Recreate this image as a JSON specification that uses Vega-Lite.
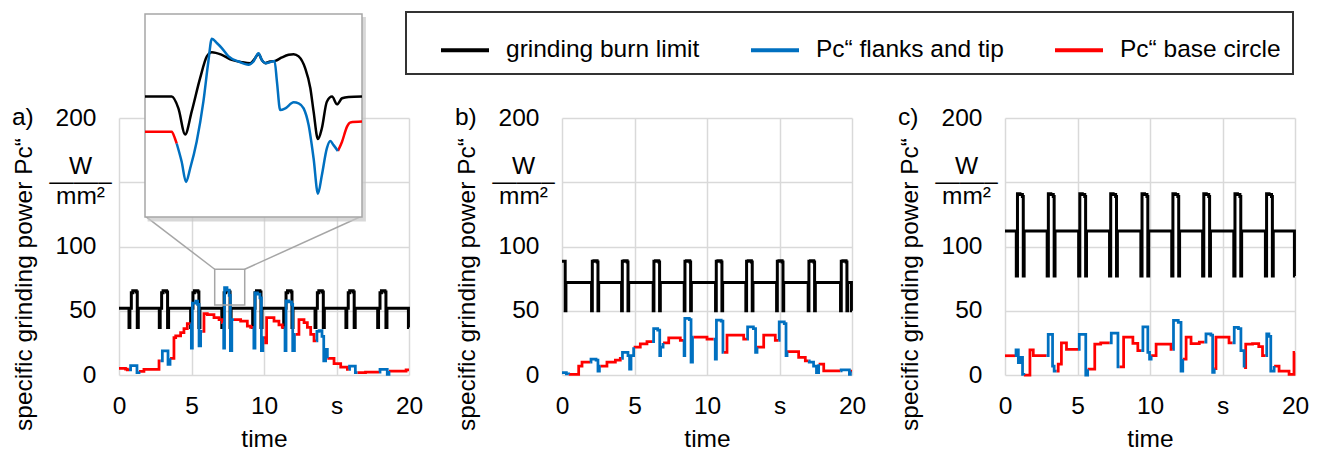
{
"$schema": "https://vega.github.io/schema/vega-lite/v6.json",
"padding": {"left": 10, "top": 11, "right": 5, "bottom": 0},
"background": "white",
"config": {
  "font": "Liberation Sans",
  "view": {"stroke": null},
  "legend": {"strokeWidth": 2},
  "axis": {"labelFont": "Liberation Sans", "titleFont": "Liberation Sans", "labelFontSize": 24.5, "titleFontSize": 24.5, "labelColor": "#000000", "titleColor": "#000000", "titleFontWeight": "normal", "gridColor": "#d9d9d9", "gridWidth": 1.5, "domain": false, "ticks": false, "tickSize": 0, "labelFlush": false, "labelOverlap": false}
},
"bounds": "flush",
"spacing": 153,
"resolve": {"scale": {"color": "shared"}},
"datasets": {
"d": [
{"p":"a","s":"k","g":0,"t":0,"v":52},{"p":"a","s":"k","g":0,"t":0.69,"v":37},{"p":"a","s":"k","g":0,"t":0.75,"v":52},{"p":"a","s":"k","g":0,"t":0.85,"v":64},{"p":"a","s":"k","g":0,"t":0.95,"v":65.5},{"p":"a","s":"k","g":0,"t":1.19,"v":64.5},{"p":"a","s":"k","g":0,"t":1.26,"v":37},{"p":"a","s":"k","g":0,"t":1.33,"v":52},
{"p":"a","s":"k","g":0,"t":2.78,"v":37},{"p":"a","s":"k","g":0,"t":2.84,"v":52},{"p":"a","s":"k","g":0,"t":2.94,"v":64},{"p":"a","s":"k","g":0,"t":3.04,"v":65.5},{"p":"a","s":"k","g":0,"t":3.28,"v":64.5},{"p":"a","s":"k","g":0,"t":3.35,"v":37},{"p":"a","s":"k","g":0,"t":3.42,"v":52},
{"p":"a","s":"k","g":0,"t":4.94,"v":37},{"p":"a","s":"k","g":0,"t":5.0,"v":52},{"p":"a","s":"k","g":0,"t":5.1,"v":64},{"p":"a","s":"k","g":0,"t":5.2,"v":65.5},{"p":"a","s":"k","g":0,"t":5.44,"v":64.5},{"p":"a","s":"k","g":0,"t":5.51,"v":37},{"p":"a","s":"k","g":0,"t":5.58,"v":52},
{"p":"a","s":"k","g":0,"t":7.09,"v":37},{"p":"a","s":"k","g":0,"t":7.15,"v":52},{"p":"a","s":"k","g":0,"t":7.25,"v":64},{"p":"a","s":"k","g":0,"t":7.35,"v":65.5},{"p":"a","s":"k","g":0,"t":7.59,"v":64.5},{"p":"a","s":"k","g":0,"t":7.66,"v":37},{"p":"a","s":"k","g":0,"t":7.73,"v":52},
{"p":"a","s":"k","g":0,"t":9.22,"v":37},{"p":"a","s":"k","g":0,"t":9.28,"v":52},{"p":"a","s":"k","g":0,"t":9.38,"v":64},{"p":"a","s":"k","g":0,"t":9.48,"v":65.5},{"p":"a","s":"k","g":0,"t":9.72,"v":64.5},{"p":"a","s":"k","g":0,"t":9.79,"v":37},{"p":"a","s":"k","g":0,"t":9.86,"v":52},
{"p":"a","s":"k","g":0,"t":11.36,"v":37},{"p":"a","s":"k","g":0,"t":11.42,"v":52},{"p":"a","s":"k","g":0,"t":11.52,"v":64},{"p":"a","s":"k","g":0,"t":11.62,"v":65.5},{"p":"a","s":"k","g":0,"t":11.86,"v":64.5},{"p":"a","s":"k","g":0,"t":11.93,"v":37},{"p":"a","s":"k","g":0,"t":12.0,"v":52},
{"p":"a","s":"k","g":0,"t":13.52,"v":37},{"p":"a","s":"k","g":0,"t":13.58,"v":52},{"p":"a","s":"k","g":0,"t":13.68,"v":64},{"p":"a","s":"k","g":0,"t":13.78,"v":65.5},{"p":"a","s":"k","g":0,"t":14.02,"v":64.5},{"p":"a","s":"k","g":0,"t":14.09,"v":37},{"p":"a","s":"k","g":0,"t":14.16,"v":52},
{"p":"a","s":"k","g":0,"t":15.65,"v":37},{"p":"a","s":"k","g":0,"t":15.71,"v":52},{"p":"a","s":"k","g":0,"t":15.81,"v":64},{"p":"a","s":"k","g":0,"t":15.91,"v":65.5},{"p":"a","s":"k","g":0,"t":16.15,"v":64.5},{"p":"a","s":"k","g":0,"t":16.22,"v":37},{"p":"a","s":"k","g":0,"t":16.29,"v":52},
{"p":"a","s":"k","g":0,"t":17.84,"v":37},{"p":"a","s":"k","g":0,"t":17.9,"v":52},{"p":"a","s":"k","g":0,"t":18.0,"v":64},{"p":"a","s":"k","g":0,"t":18.1,"v":65.5},{"p":"a","s":"k","g":0,"t":18.34,"v":64.5},{"p":"a","s":"k","g":0,"t":18.41,"v":37},{"p":"a","s":"k","g":0,"t":18.48,"v":52},
{"p":"a","s":"k","g":0,"t":19.96,"v":37},{"p":"a","s":"k","g":0,"t":20,"v":37},

{"p":"a","s":"r","g":1,"t":0,"v":5.2},{"p":"a","s":"r","g":1,"t":0.45,"v":4.5},{"p":"a","s":"r","g":1,"t":0.57,"v":3.9},{"p":"a","s":"r","g":1,"t":0.69,"v":3.9},
{"p":"a","s":"b","g":1,"t":0.69,"v":3.9},{"p":"a","s":"b","g":1,"t":0.8,"v":7.2},{"p":"a","s":"b","g":1,"t":1.24,"v":1.8},{"p":"a","s":"b","g":1,"t":1.38,"v":2.8},
{"p":"a","s":"r","g":2,"t":1.38,"v":2.8},{"p":"a","s":"r","g":2,"t":1.72,"v":4.4},{"p":"a","s":"r","g":2,"t":2.76,"v":10.9},{"p":"a","s":"r","g":2,"t":2.87,"v":10.9},
{"p":"a","s":"b","g":2,"t":2.87,"v":10.9},{"p":"a","s":"b","g":2,"t":2.99,"v":18.7},{"p":"a","s":"b","g":2,"t":3.38,"v":8.3},{"p":"a","s":"b","g":2,"t":3.52,"v":13},
{"p":"a","s":"r","g":3,"t":3.52,"v":13},{"p":"a","s":"r","g":3,"t":3.79,"v":29},{"p":"a","s":"r","g":3,"t":3.91,"v":30.5},{"p":"a","s":"r","g":3,"t":4.25,"v":33},{"p":"a","s":"r","g":3,"t":4.48,"v":36},{"p":"a","s":"r","g":3,"t":4.71,"v":40},{"p":"a","s":"r","g":3,"t":4.94,"v":40},
{"p":"a","s":"b","g":3,"t":4.94,"v":40},{"p":"a","s":"b","g":3,"t":4.99,"v":21},{"p":"a","s":"b","g":3,"t":5.06,"v":56},{"p":"a","s":"b","g":3,"t":5.3,"v":57.5},{"p":"a","s":"b","g":3,"t":5.42,"v":55},{"p":"a","s":"b","g":3,"t":5.52,"v":22.6},{"p":"a","s":"b","g":3,"t":5.63,"v":34},{"p":"a","s":"b","g":3,"t":5.75,"v":34},
{"p":"a","s":"r","g":4,"t":5.75,"v":34},{"p":"a","s":"r","g":4,"t":5.86,"v":47.7},{"p":"a","s":"r","g":4,"t":6.09,"v":47},{"p":"a","s":"r","g":4,"t":6.55,"v":44.6},{"p":"a","s":"r","g":4,"t":6.9,"v":43},{"p":"a","s":"r","g":4,"t":7.13,"v":40.7},{"p":"a","s":"r","g":4,"t":7.18,"v":40.7},
{"p":"a","s":"b","g":4,"t":7.18,"v":40.7},{"p":"a","s":"b","g":4,"t":7.22,"v":21},{"p":"a","s":"b","g":4,"t":7.28,"v":68},{"p":"a","s":"b","g":4,"t":7.45,"v":66},{"p":"a","s":"b","g":4,"t":7.6,"v":62},{"p":"a","s":"b","g":4,"t":7.68,"v":19},{"p":"a","s":"b","g":4,"t":7.78,"v":43},{"p":"a","s":"b","g":4,"t":7.93,"v":43},
{"p":"a","s":"r","g":5,"t":7.93,"v":43},{"p":"a","s":"r","g":5,"t":8.39,"v":42},{"p":"a","s":"r","g":5,"t":8.85,"v":38},{"p":"a","s":"r","g":5,"t":9.08,"v":37},{"p":"a","s":"r","g":5,"t":9.25,"v":37},
{"p":"a","s":"b","g":5,"t":9.25,"v":37},{"p":"a","s":"b","g":5,"t":9.3,"v":21},{"p":"a","s":"b","g":5,"t":9.38,"v":64},{"p":"a","s":"b","g":5,"t":9.55,"v":63},{"p":"a","s":"b","g":5,"t":9.72,"v":60},{"p":"a","s":"b","g":5,"t":9.82,"v":19},{"p":"a","s":"b","g":5,"t":9.92,"v":29},{"p":"a","s":"b","g":5,"t":10.0,"v":29},
{"p":"a","s":"r","g":6,"t":10.0,"v":29},{"p":"a","s":"r","g":6,"t":10.11,"v":25},{"p":"a","s":"r","g":6,"t":10.18,"v":44.6},{"p":"a","s":"r","g":6,"t":10.69,"v":42},{"p":"a","s":"r","g":6,"t":11.03,"v":39},{"p":"a","s":"r","g":6,"t":11.26,"v":37},{"p":"a","s":"r","g":6,"t":11.4,"v":37},
{"p":"a","s":"b","g":6,"t":11.4,"v":37},{"p":"a","s":"b","g":6,"t":11.45,"v":19},{"p":"a","s":"b","g":6,"t":11.52,"v":57.6},{"p":"a","s":"b","g":6,"t":11.7,"v":57},{"p":"a","s":"b","g":6,"t":11.9,"v":55},{"p":"a","s":"b","g":6,"t":11.98,"v":19},{"p":"a","s":"b","g":6,"t":12.1,"v":31.6},{"p":"a","s":"b","g":6,"t":12.18,"v":31.6},
{"p":"a","s":"r","g":7,"t":12.18,"v":31.6},{"p":"a","s":"r","g":7,"t":12.41,"v":43},{"p":"a","s":"r","g":7,"t":12.76,"v":40.7},{"p":"a","s":"r","g":7,"t":12.99,"v":37},{"p":"a","s":"r","g":7,"t":13.22,"v":31.6},{"p":"a","s":"r","g":7,"t":13.45,"v":26.5},{"p":"a","s":"r","g":7,"t":13.6,"v":26.5},
{"p":"a","s":"b","g":7,"t":13.6,"v":26.5},{"p":"a","s":"b","g":7,"t":13.65,"v":34},{"p":"a","s":"b","g":7,"t":13.8,"v":34.5},{"p":"a","s":"b","g":7,"t":14.0,"v":30},{"p":"a","s":"b","g":7,"t":14.12,"v":11},{"p":"a","s":"b","g":7,"t":14.25,"v":20},{"p":"a","s":"b","g":7,"t":14.37,"v":13},
{"p":"a","s":"r","g":8,"t":14.37,"v":13},{"p":"a","s":"r","g":8,"t":14.83,"v":8.8},{"p":"a","s":"r","g":8,"t":15.29,"v":6.2},{"p":"a","s":"r","g":8,"t":15.75,"v":4.4},{"p":"a","s":"r","g":8,"t":15.85,"v":4.4},
{"p":"a","s":"b","g":8,"t":15.85,"v":4.4},{"p":"a","s":"b","g":8,"t":15.9,"v":7},{"p":"a","s":"b","g":8,"t":16.2,"v":7},{"p":"a","s":"b","g":8,"t":16.3,"v":1.8},{"p":"a","s":"b","g":8,"t":16.44,"v":1.8},
{"p":"a","s":"r","g":9,"t":16.44,"v":1.8},{"p":"a","s":"r","g":9,"t":17.0,"v":2.3},{"p":"a","s":"r","g":9,"t":17.93,"v":2.3},
{"p":"a","s":"b","g":9,"t":17.93,"v":2.3},{"p":"a","s":"b","g":9,"t":18.0,"v":4.4},{"p":"a","s":"b","g":9,"t":18.4,"v":4.4},{"p":"a","s":"b","g":9,"t":18.5,"v":0.5},{"p":"a","s":"b","g":9,"t":18.62,"v":3.1},
{"p":"a","s":"r","g":10,"t":18.62,"v":3.1},{"p":"a","s":"r","g":10,"t":19.5,"v":3.1},{"p":"a","s":"r","g":10,"t":19.8,"v":3.9},{"p":"a","s":"r","g":10,"t":20,"v":3.9},

{"p":"b","s":"k","g":0,"t":0,"v":88.5},{"p":"b","s":"k","g":0,"t":0.22,"v":50},{"p":"b","s":"k","g":0,"t":0.27,"v":72},
{"p":"b","s":"k","g":0,"t":2.04,"v":50},{"p":"b","s":"k","g":0,"t":2.09,"v":88.5},{"p":"b","s":"k","g":0,"t":2.2,"v":89},{"p":"b","s":"k","g":0,"t":2.42,"v":88},{"p":"b","s":"k","g":0,"t":2.48,"v":50},{"p":"b","s":"k","g":0,"t":2.53,"v":72},
{"p":"b","s":"k","g":0,"t":4.11,"v":50},{"p":"b","s":"k","g":0,"t":4.16,"v":88.5},{"p":"b","s":"k","g":0,"t":4.27,"v":89},{"p":"b","s":"k","g":0,"t":4.49,"v":88},{"p":"b","s":"k","g":0,"t":4.55,"v":50},{"p":"b","s":"k","g":0,"t":4.6,"v":72},
{"p":"b","s":"k","g":0,"t":6.29,"v":50},{"p":"b","s":"k","g":0,"t":6.34,"v":88.5},{"p":"b","s":"k","g":0,"t":6.45,"v":89},{"p":"b","s":"k","g":0,"t":6.67,"v":88},{"p":"b","s":"k","g":0,"t":6.73,"v":50},{"p":"b","s":"k","g":0,"t":6.78,"v":72},
{"p":"b","s":"k","g":0,"t":8.43,"v":50},{"p":"b","s":"k","g":0,"t":8.48,"v":88.5},{"p":"b","s":"k","g":0,"t":8.59,"v":89},{"p":"b","s":"k","g":0,"t":8.81,"v":88},{"p":"b","s":"k","g":0,"t":8.87,"v":50},{"p":"b","s":"k","g":0,"t":8.92,"v":72},
{"p":"b","s":"k","g":0,"t":10.59,"v":50},{"p":"b","s":"k","g":0,"t":10.64,"v":88.5},{"p":"b","s":"k","g":0,"t":10.75,"v":89},{"p":"b","s":"k","g":0,"t":10.97,"v":88},{"p":"b","s":"k","g":0,"t":11.03,"v":50},{"p":"b","s":"k","g":0,"t":11.08,"v":72},
{"p":"b","s":"k","g":0,"t":12.68,"v":50},{"p":"b","s":"k","g":0,"t":12.73,"v":88.5},{"p":"b","s":"k","g":0,"t":12.84,"v":89},{"p":"b","s":"k","g":0,"t":13.06,"v":88},{"p":"b","s":"k","g":0,"t":13.12,"v":50},{"p":"b","s":"k","g":0,"t":13.17,"v":72},
{"p":"b","s":"k","g":0,"t":14.8,"v":50},{"p":"b","s":"k","g":0,"t":14.85,"v":88.5},{"p":"b","s":"k","g":0,"t":14.96,"v":89},{"p":"b","s":"k","g":0,"t":15.18,"v":88},{"p":"b","s":"k","g":0,"t":15.24,"v":50},{"p":"b","s":"k","g":0,"t":15.29,"v":72},
{"p":"b","s":"k","g":0,"t":16.98,"v":50},{"p":"b","s":"k","g":0,"t":17.03,"v":88.5},{"p":"b","s":"k","g":0,"t":17.14,"v":89},{"p":"b","s":"k","g":0,"t":17.36,"v":88},{"p":"b","s":"k","g":0,"t":17.42,"v":50},{"p":"b","s":"k","g":0,"t":17.47,"v":72},
{"p":"b","s":"k","g":0,"t":19.21,"v":50},{"p":"b","s":"k","g":0,"t":19.26,"v":88.5},{"p":"b","s":"k","g":0,"t":19.37,"v":89},{"p":"b","s":"k","g":0,"t":19.59,"v":88},{"p":"b","s":"k","g":0,"t":19.65,"v":50},{"p":"b","s":"k","g":0,"t":19.7,"v":72},
{"p":"b","s":"k","g":0,"t":19.96,"v":50},{"p":"b","s":"k","g":0,"t":20,"v":50},

{"p":"b","s":"b","g":1,"t":0,"v":1.8},{"p":"b","s":"b","g":1,"t":0.3,"v":0.8},{"p":"b","s":"b","g":1,"t":0.46,"v":0.5},
{"p":"b","s":"r","g":1,"t":0.46,"v":0.5},{"p":"b","s":"r","g":1,"t":1.15,"v":7},{"p":"b","s":"r","g":1,"t":1.38,"v":10},{"p":"b","s":"r","g":1,"t":1.95,"v":10},
{"p":"b","s":"b","g":2,"t":1.95,"v":10},{"p":"b","s":"b","g":2,"t":2.0,"v":12.4},{"p":"b","s":"b","g":2,"t":2.35,"v":11.5},{"p":"b","s":"b","g":2,"t":2.48,"v":3},{"p":"b","s":"b","g":2,"t":2.58,"v":7},{"p":"b","s":"b","g":2,"t":2.64,"v":7},
{"p":"b","s":"r","g":2,"t":2.64,"v":7},{"p":"b","s":"r","g":2,"t":3.1,"v":10},{"p":"b","s":"r","g":2,"t":3.68,"v":11.6},{"p":"b","s":"r","g":2,"t":4.02,"v":13},{"p":"b","s":"r","g":2,"t":4.1,"v":13},
{"p":"b","s":"b","g":3,"t":4.1,"v":13},{"p":"b","s":"b","g":3,"t":4.17,"v":17.7},{"p":"b","s":"b","g":3,"t":4.55,"v":15},{"p":"b","s":"b","g":3,"t":4.66,"v":4.5},{"p":"b","s":"b","g":3,"t":4.76,"v":15},{"p":"b","s":"b","g":3,"t":4.94,"v":21.6},
{"p":"b","s":"r","g":3,"t":4.94,"v":21.6},{"p":"b","s":"r","g":3,"t":5.4,"v":24.3},{"p":"b","s":"r","g":3,"t":5.86,"v":26},{"p":"b","s":"r","g":3,"t":6.21,"v":26},
{"p":"b","s":"b","g":4,"t":6.21,"v":26},{"p":"b","s":"b","g":4,"t":6.32,"v":36},{"p":"b","s":"b","g":4,"t":6.6,"v":35},{"p":"b","s":"b","g":4,"t":6.74,"v":15},{"p":"b","s":"b","g":4,"t":6.8,"v":21.6},{"p":"b","s":"b","g":4,"t":6.97,"v":25},
{"p":"b","s":"r","g":4,"t":6.97,"v":25},{"p":"b","s":"r","g":4,"t":7.36,"v":28.8},{"p":"b","s":"r","g":4,"t":8.16,"v":27},{"p":"b","s":"r","g":4,"t":8.39,"v":27},
{"p":"b","s":"b","g":5,"t":8.39,"v":27},{"p":"b","s":"b","g":5,"t":8.42,"v":15},{"p":"b","s":"b","g":5,"t":8.47,"v":44},{"p":"b","s":"b","g":5,"t":8.78,"v":43},{"p":"b","s":"b","g":5,"t":8.9,"v":10},{"p":"b","s":"b","g":5,"t":9.0,"v":29.5},{"p":"b","s":"b","g":5,"t":9.08,"v":29.5},
{"p":"b","s":"r","g":5,"t":9.08,"v":29.5},{"p":"b","s":"r","g":5,"t":10.0,"v":28},{"p":"b","s":"r","g":5,"t":10.46,"v":28},
{"p":"b","s":"b","g":6,"t":10.46,"v":28},{"p":"b","s":"b","g":6,"t":10.57,"v":12.4},{"p":"b","s":"b","g":6,"t":10.65,"v":42.7},{"p":"b","s":"b","g":6,"t":10.98,"v":42},{"p":"b","s":"b","g":6,"t":11.1,"v":17.7},{"p":"b","s":"b","g":6,"t":11.15,"v":17.7},
{"p":"b","s":"r","g":6,"t":11.15,"v":17.7},{"p":"b","s":"r","g":6,"t":11.38,"v":31},{"p":"b","s":"r","g":6,"t":12.53,"v":28},{"p":"b","s":"r","g":6,"t":12.76,"v":28},
{"p":"b","s":"b","g":7,"t":12.76,"v":28},{"p":"b","s":"b","g":7,"t":12.8,"v":37.5},{"p":"b","s":"b","g":7,"t":13.2,"v":36},{"p":"b","s":"b","g":7,"t":13.35,"v":17.7},{"p":"b","s":"b","g":7,"t":13.45,"v":21.6},
{"p":"b","s":"r","g":7,"t":13.45,"v":21.6},{"p":"b","s":"r","g":7,"t":13.91,"v":31},{"p":"b","s":"r","g":7,"t":14.71,"v":27},{"p":"b","s":"r","g":7,"t":14.94,"v":27},
{"p":"b","s":"b","g":8,"t":14.94,"v":27},{"p":"b","s":"b","g":8,"t":14.98,"v":41.4},{"p":"b","s":"b","g":8,"t":15.33,"v":40},{"p":"b","s":"b","g":8,"t":15.45,"v":15},{"p":"b","s":"b","g":8,"t":15.52,"v":18.2},
{"p":"b","s":"r","g":8,"t":15.52,"v":18.2},{"p":"b","s":"r","g":8,"t":16.32,"v":13.7},{"p":"b","s":"r","g":8,"t":16.78,"v":11},{"p":"b","s":"r","g":8,"t":17.01,"v":11},
{"p":"b","s":"b","g":9,"t":17.01,"v":11},{"p":"b","s":"b","g":9,"t":17.05,"v":10},{"p":"b","s":"b","g":9,"t":17.35,"v":7},{"p":"b","s":"b","g":9,"t":17.55,"v":1.8},{"p":"b","s":"b","g":9,"t":17.7,"v":8.4},
{"p":"b","s":"r","g":9,"t":17.7,"v":8.4},{"p":"b","s":"r","g":9,"t":18.05,"v":3.2},{"p":"b","s":"r","g":9,"t":19.2,"v":3.2},
{"p":"b","s":"b","g":10,"t":19.2,"v":3.2},{"p":"b","s":"b","g":10,"t":19.25,"v":4},{"p":"b","s":"b","g":10,"t":19.75,"v":4},{"p":"b","s":"b","g":10,"t":19.82,"v":0.5},{"p":"b","s":"b","g":10,"t":19.89,"v":3},
{"p":"b","s":"r","g":10,"t":19.89,"v":3},{"p":"b","s":"r","g":10,"t":20,"v":3},

{"p":"c","s":"k","g":0,"t":0,"v":112},
{"p":"c","s":"k","g":0,"t":0.78,"v":77},{"p":"c","s":"k","g":0,"t":0.86,"v":141},{"p":"c","s":"k","g":0,"t":1.03,"v":140.5},{"p":"c","s":"k","g":0,"t":1.2,"v":139},{"p":"c","s":"k","g":0,"t":1.26,"v":77},{"p":"c","s":"k","g":0,"t":1.32,"v":112},
{"p":"c","s":"k","g":0,"t":2.91,"v":77},{"p":"c","s":"k","g":0,"t":2.99,"v":141},{"p":"c","s":"k","g":0,"t":3.16,"v":140.5},{"p":"c","s":"k","g":0,"t":3.33,"v":139},{"p":"c","s":"k","g":0,"t":3.39,"v":77},{"p":"c","s":"k","g":0,"t":3.45,"v":112},
{"p":"c","s":"k","g":0,"t":5.08,"v":77},{"p":"c","s":"k","g":0,"t":5.16,"v":141},{"p":"c","s":"k","g":0,"t":5.33,"v":140.5},{"p":"c","s":"k","g":0,"t":5.5,"v":139},{"p":"c","s":"k","g":0,"t":5.56,"v":77},{"p":"c","s":"k","g":0,"t":5.62,"v":112},
{"p":"c","s":"k","g":0,"t":7.21,"v":77},{"p":"c","s":"k","g":0,"t":7.29,"v":141},{"p":"c","s":"k","g":0,"t":7.46,"v":140.5},{"p":"c","s":"k","g":0,"t":7.63,"v":139},{"p":"c","s":"k","g":0,"t":7.69,"v":77},{"p":"c","s":"k","g":0,"t":7.75,"v":112},
{"p":"c","s":"k","g":0,"t":9.37,"v":77},{"p":"c","s":"k","g":0,"t":9.45,"v":141},{"p":"c","s":"k","g":0,"t":9.62,"v":140.5},{"p":"c","s":"k","g":0,"t":9.79,"v":139},{"p":"c","s":"k","g":0,"t":9.85,"v":77},{"p":"c","s":"k","g":0,"t":9.91,"v":112},
{"p":"c","s":"k","g":0,"t":11.5,"v":77},{"p":"c","s":"k","g":0,"t":11.58,"v":141},{"p":"c","s":"k","g":0,"t":11.75,"v":140.5},{"p":"c","s":"k","g":0,"t":11.92,"v":139},{"p":"c","s":"k","g":0,"t":11.98,"v":77},{"p":"c","s":"k","g":0,"t":12.04,"v":112},
{"p":"c","s":"k","g":0,"t":13.63,"v":77},{"p":"c","s":"k","g":0,"t":13.71,"v":141},{"p":"c","s":"k","g":0,"t":13.88,"v":140.5},{"p":"c","s":"k","g":0,"t":14.05,"v":139},{"p":"c","s":"k","g":0,"t":14.11,"v":77},{"p":"c","s":"k","g":0,"t":14.17,"v":112},
{"p":"c","s":"k","g":0,"t":15.78,"v":77},{"p":"c","s":"k","g":0,"t":15.86,"v":141},{"p":"c","s":"k","g":0,"t":16.03,"v":140.5},{"p":"c","s":"k","g":0,"t":16.2,"v":139},{"p":"c","s":"k","g":0,"t":16.26,"v":77},{"p":"c","s":"k","g":0,"t":16.32,"v":112},
{"p":"c","s":"k","g":0,"t":17.96,"v":77},{"p":"c","s":"k","g":0,"t":18.04,"v":141},{"p":"c","s":"k","g":0,"t":18.21,"v":140.5},{"p":"c","s":"k","g":0,"t":18.38,"v":139},{"p":"c","s":"k","g":0,"t":18.44,"v":77},{"p":"c","s":"k","g":0,"t":18.5,"v":112},
{"p":"c","s":"k","g":0,"t":19.96,"v":77},{"p":"c","s":"k","g":0,"t":20,"v":77},

{"p":"c","s":"r","g":1,"t":0,"v":15},{"p":"c","s":"r","g":1,"t":0.69,"v":15},
{"p":"c","s":"b","g":1,"t":0.69,"v":15},{"p":"c","s":"b","g":1,"t":0.76,"v":19.5},{"p":"c","s":"b","g":1,"t":0.92,"v":9.7},{"p":"c","s":"b","g":1,"t":1.08,"v":13.7},{"p":"c","s":"b","g":1,"t":1.21,"v":0.5},{"p":"c","s":"b","g":1,"t":1.3,"v":0},
{"p":"c","s":"r","g":2,"t":1.3,"v":0},{"p":"c","s":"r","g":2,"t":1.72,"v":19.5},{"p":"c","s":"r","g":2,"t":1.95,"v":15},{"p":"c","s":"r","g":2,"t":2.86,"v":15},
{"p":"c","s":"b","g":2,"t":2.86,"v":15},{"p":"c","s":"b","g":2,"t":2.98,"v":31.6},{"p":"c","s":"b","g":2,"t":3.28,"v":7},{"p":"c","s":"b","g":2,"t":3.39,"v":3},{"p":"c","s":"b","g":2,"t":3.55,"v":3},
{"p":"c","s":"r","g":3,"t":3.55,"v":3},{"p":"c","s":"r","g":3,"t":3.67,"v":8.4},{"p":"c","s":"r","g":3,"t":3.89,"v":25},{"p":"c","s":"r","g":3,"t":4.24,"v":20},{"p":"c","s":"r","g":3,"t":5.04,"v":20},
{"p":"c","s":"b","g":3,"t":5.04,"v":20},{"p":"c","s":"b","g":3,"t":5.12,"v":31.6},{"p":"c","s":"b","g":3,"t":5.57,"v":0},{"p":"c","s":"b","g":3,"t":5.7,"v":4.5},
{"p":"c","s":"r","g":4,"t":5.7,"v":4.5},{"p":"c","s":"r","g":4,"t":6.19,"v":24},{"p":"c","s":"r","g":4,"t":6.6,"v":25},{"p":"c","s":"r","g":4,"t":7.22,"v":25},
{"p":"c","s":"b","g":4,"t":7.22,"v":25},{"p":"c","s":"b","g":4,"t":7.33,"v":32.6},{"p":"c","s":"b","g":4,"t":7.79,"v":6.3},{"p":"c","s":"b","g":4,"t":7.9,"v":6.3},
{"p":"c","s":"r","g":5,"t":7.9,"v":6.3},{"p":"c","s":"r","g":5,"t":8.18,"v":29.5},{"p":"c","s":"r","g":5,"t":8.82,"v":24.7},{"p":"c","s":"r","g":5,"t":9.16,"v":19},{"p":"c","s":"r","g":5,"t":9.39,"v":19},
{"p":"c","s":"b","g":5,"t":9.39,"v":19},{"p":"c","s":"b","g":5,"t":9.51,"v":37.4},{"p":"c","s":"b","g":5,"t":9.85,"v":17.6},{"p":"c","s":"b","g":5,"t":9.97,"v":12.4},{"p":"c","s":"b","g":5,"t":10.08,"v":15},
{"p":"c","s":"r","g":6,"t":10.08,"v":15},{"p":"c","s":"r","g":6,"t":10.42,"v":24},{"p":"c","s":"r","g":6,"t":11.45,"v":20},{"p":"c","s":"r","g":6,"t":11.57,"v":20},
{"p":"c","s":"b","g":6,"t":11.57,"v":20},{"p":"c","s":"b","g":6,"t":11.62,"v":42.6},{"p":"c","s":"b","g":6,"t":11.95,"v":41},{"p":"c","s":"b","g":6,"t":12.14,"v":3},{"p":"c","s":"b","g":6,"t":12.26,"v":12.4},
{"p":"c","s":"r","g":7,"t":12.26,"v":12.4},{"p":"c","s":"r","g":7,"t":12.49,"v":29.5},{"p":"c","s":"r","g":7,"t":12.83,"v":24.5},{"p":"c","s":"r","g":7,"t":13.4,"v":25.5},{"p":"c","s":"r","g":7,"t":13.75,"v":25.5},
{"p":"c","s":"b","g":7,"t":13.75,"v":25.5},{"p":"c","s":"b","g":7,"t":13.86,"v":32},{"p":"c","s":"b","g":7,"t":14.2,"v":31},{"p":"c","s":"b","g":7,"t":14.32,"v":2},{"p":"c","s":"b","g":7,"t":14.43,"v":5},
{"p":"c","s":"r","g":8,"t":14.43,"v":5},{"p":"c","s":"r","g":8,"t":14.55,"v":29.5},{"p":"c","s":"r","g":8,"t":15.2,"v":29.5},{"p":"c","s":"r","g":8,"t":15.45,"v":25},{"p":"c","s":"r","g":8,"t":15.69,"v":25},
{"p":"c","s":"b","g":8,"t":15.69,"v":25},{"p":"c","s":"b","g":8,"t":15.81,"v":37},{"p":"c","s":"b","g":8,"t":16.1,"v":36},{"p":"c","s":"b","g":8,"t":16.27,"v":19},{"p":"c","s":"b","g":8,"t":16.49,"v":5.8},
{"p":"c","s":"r","g":9,"t":16.49,"v":5.8},{"p":"c","s":"r","g":9,"t":16.6,"v":24},{"p":"c","s":"r","g":9,"t":17.07,"v":24.5},{"p":"c","s":"r","g":9,"t":17.5,"v":22},{"p":"c","s":"r","g":9,"t":17.76,"v":15},{"p":"c","s":"r","g":9,"t":17.98,"v":15},
{"p":"c","s":"b","g":9,"t":17.98,"v":15},{"p":"c","s":"b","g":9,"t":18.05,"v":32},{"p":"c","s":"b","g":9,"t":18.2,"v":30},{"p":"c","s":"b","g":9,"t":18.33,"v":3},{"p":"c","s":"b","g":9,"t":18.56,"v":7},
{"p":"c","s":"r","g":10,"t":18.56,"v":7},{"p":"c","s":"r","g":10,"t":18.9,"v":3},{"p":"c","s":"r","g":10,"t":19.59,"v":0.5},{"p":"c","s":"r","g":10,"t":19.93,"v":17.6},{"p":"c","s":"r","g":10,"t":20,"v":17.6}
],
"ins": [
{"s":"k","g":0,"t":0,"v":59.3},{"s":"k","g":0,"t":12.3,"v":59.3},{"s":"k","g":0,"t":15.4,"v":53.5},{"s":"k","g":0,"t":18.5,"v":40.7},{"s":"k","g":0,"t":21.5,"v":51.9},{"s":"k","g":0,"t":25.4,"v":68.4},{"s":"k","g":0,"t":28.5,"v":79.1},{"s":"k","g":0,"t":30.8,"v":81.2},{"s":"k","g":0,"t":35.4,"v":79.9},{"s":"k","g":0,"t":40.0,"v":77.4},{"s":"k","g":0,"t":44.6,"v":76.3},{"s":"k","g":0,"t":48.5,"v":75.8},{"s":"k","g":0,"t":50.8,"v":78.3},{"s":"k","g":0,"t":52.3,"v":80.4},{"s":"k","g":0,"t":53.8,"v":77.4},{"s":"k","g":0,"t":55.4,"v":75.8},{"s":"k","g":0,"t":57.7,"v":76.6},{"s":"k","g":0,"t":60.0,"v":76.9},{"s":"k","g":0,"t":63.1,"v":78.6},{"s":"k","g":0,"t":66.2,"v":79.9},{"s":"k","g":0,"t":68.5,"v":80.2},{"s":"k","g":0,"t":70.8,"v":79.1},{"s":"k","g":0,"t":73.8,"v":73.3},{"s":"k","g":0,"t":76.2,"v":63.4},{"s":"k","g":0,"t":77.7,"v":51.9},{"s":"k","g":0,"t":79.7,"v":38.4},{"s":"k","g":0,"t":81.5,"v":43.7},{"s":"k","g":0,"t":83.8,"v":56.8},{"s":"k","g":0,"t":86.2,"v":59.3},{"s":"k","g":0,"t":88.5,"v":55.5},{"s":"k","g":0,"t":90.8,"v":58.5},{"s":"k","g":0,"t":93.8,"v":59.1},{"s":"k","g":0,"t":100,"v":59.3},
{"s":"r","g":1,"t":0,"v":42},{"s":"r","g":1,"t":12.3,"v":42},{"s":"r","g":1,"t":13.8,"v":38.7},{"s":"r","g":1,"t":14.6,"v":36.2},
{"s":"b","g":1,"t":14.6,"v":36.2},{"s":"b","g":1,"t":16.9,"v":27.2},{"s":"b","g":1,"t":18.9,"v":17.3},{"s":"b","g":1,"t":20.8,"v":23.9},{"s":"b","g":1,"t":23.8,"v":37.1},{"s":"b","g":1,"t":26.9,"v":56.8},{"s":"b","g":1,"t":29.2,"v":76.6},{"s":"b","g":1,"t":30.8,"v":87.8},{"s":"b","g":1,"t":33.1,"v":85.7},{"s":"b","g":1,"t":35.4,"v":83.2},{"s":"b","g":1,"t":38.5,"v":79.1},{"s":"b","g":1,"t":43.1,"v":76.6},{"s":"b","g":1,"t":47.7,"v":75},{"s":"b","g":1,"t":50,"v":76.6},{"s":"b","g":1,"t":52.3,"v":80.7},{"s":"b","g":1,"t":53.8,"v":77.4},{"s":"b","g":1,"t":55.7,"v":75.8},{"s":"b","g":1,"t":57.7,"v":76.3},{"s":"b","g":1,"t":59.7,"v":76.9},{"s":"b","g":1,"t":60.8,"v":66.7},{"s":"b","g":1,"t":62.3,"v":52.7},{"s":"b","g":1,"t":64.6,"v":53.5},{"s":"b","g":1,"t":68.5,"v":56.5},{"s":"b","g":1,"t":70.8,"v":56},{"s":"b","g":1,"t":73.1,"v":53.5},{"s":"b","g":1,"t":75.4,"v":45.3},{"s":"b","g":1,"t":77.7,"v":28.8},{"s":"b","g":1,"t":79.7,"v":11.5},{"s":"b","g":1,"t":81.5,"v":20.6},{"s":"b","g":1,"t":83.8,"v":33.8},{"s":"b","g":1,"t":85.4,"v":37.4},{"s":"b","g":1,"t":86.9,"v":35.4},{"s":"b","g":1,"t":88.9,"v":32.5},
{"s":"r","g":2,"t":88.9,"v":32.5},{"s":"r","g":2,"t":90.8,"v":37.1},{"s":"r","g":2,"t":93.1,"v":44.5},{"s":"r","g":2,"t":94.6,"v":46.6},{"s":"r","g":2,"t":100,"v":47}
]
},
"hconcat": [
{
  "width": 290, "height": 257,
  "layer": [
    {
      "layer": [
        {"data": {"name": "d"}, "transform": [{"filter": "datum.p == 'a' && datum.s == 'k'"}],
         "mark": {"type": "line", "interpolate": "step-after", "strokeWidth": 3},
         "encoding": {
           "x": {"field": "t", "type": "quantitative", "scale": {"domain": [0, 20], "nice": false, "zero": false},
                 "axis": {"values": [0, 5, 10, 15, 20], "labelExpr": "datum.value == 15 ? 's' : datum.label", "title": "time", "labelPadding": 19, "titleY": 71, "titleBaseline": "alphabetic", "grid": true}},
           "y": {"field": "v", "type": "quantitative", "scale": {"domain": [0, 200], "nice": false},
                 "axis": {"values": [0, 50, 100, 150, 200], "labelExpr": "datum.value == 150 ? ['W', '——–', 'mm²'] : datum.label", "labelAlign": {"condition": {"test": "datum.value == 150", "value": "center"}, "value": "right"}, "labelPadding": {"condition": {"test": "datum.value == 150", "value": 39}, "value": 23}, "labelOffset": {"condition": {"test": "datum.value == 150", "value": -16}, "value": 0}, "labelLineHeight": 15, "labelBaseline": "middle", "title": "specific grinding power Pc“", "titleX": -95, "titleY": 166, "titleAngle": -90, "titleAlign": "center", "titleBaseline": "middle", "grid": true}},
           "color": {"field": "s", "type": "nominal", "scale": {"domain": ["k", "b", "r"], "range": ["#000000", "#0070c0", "#ff0000"]},
                     "legend": {"orient": "none", "legendX": 287, "legendY": -106, "direction": "horizontal", "title": null,
                                "labelExpr": "datum.label == 'k' ? 'grinding burn limit' : datum.label == 'b' ? 'Pc“ flanks and tip' : 'Pc“ base circle'",
                                "symbolType": "stroke", "symbolSize": 2304, "symbolStrokeWidth": 4, "labelFontSize": 24.5, "labelFont": "Liberation Sans", "labelColor": "#000000", "labelLimit": 400,
                                "strokeColor": "#333333", "fillColor": "white", "padding": 12, "columnPadding": 28, "labelOffset": 15, "symbolOffset": 21}},
           "detail": {"field": "g", "type": "nominal"}
         }},
        {"data": {"name": "d"}, "transform": [{"filter": "datum.p == 'a' && datum.s == 'r'"}],
         "mark": {"type": "line", "interpolate": "step-after", "strokeWidth": 2.75},
         "encoding": {"x": {"field": "t", "type": "quantitative"}, "y": {"field": "v", "type": "quantitative"}, "color": {"field": "s", "type": "nominal"}, "detail": {"field": "g", "type": "nominal"}}},
        {"data": {"name": "d"}, "transform": [{"filter": "datum.p == 'a' && datum.s == 'b'"}],
         "mark": {"type": "line", "interpolate": "step-after", "strokeWidth": 2.75},
         "encoding": {"x": {"field": "t", "type": "quantitative"}, "y": {"field": "v", "type": "quantitative"}, "color": {"field": "s", "type": "nominal"}, "detail": {"field": "g", "type": "nominal"}}},
        {"data": {"values": [{}]}, "mark": {"type": "text", "text": "a)", "align": "left", "baseline": "middle", "fontSize": 24.5, "font": "Liberation Sans", "color": "#000000"},
         "encoding": {"x": {"datum": -7.38, "type": "quantitative"}, "y": {"datum": 200, "type": "quantitative"}}},
        {"data": {"values": [{}]}, "mark": {"type": "rect", "fill": "white", "fillOpacity": 0, "stroke": "#a6a6a6", "strokeWidth": 1.5},
         "encoding": {"x": {"datum": 6.6, "type": "quantitative"}, "x2": {"datum": 8.67}, "y": {"datum": 54.5, "type": "quantitative"}, "y2": {"datum": 82.3}}},
        {"data": {"values": [{}]}, "mark": {"type": "rule", "stroke": "#a6a6a6", "strokeWidth": 1.5},
         "encoding": {"x": {"datum": 6.6, "type": "quantitative"}, "y": {"datum": 82.3, "type": "quantitative"}, "x2": {"datum": 1.81}, "y2": {"datum": 123.7}}},
        {"data": {"values": [{}]}, "mark": {"type": "rule", "stroke": "#a6a6a6", "strokeWidth": 1.5},
         "encoding": {"x": {"datum": 8.67, "type": "quantitative"}, "y": {"datum": 82.3, "type": "quantitative"}, "x2": {"datum": 16.76}, "y2": {"datum": 123.7}}}
      ]
    },
    {
      "layer": [
        {"data": {"values": [{}]}, "mark": {"type": "rect", "fill": "#c8c8c8", "opacity": 0.7},
         "encoding": {"x": {"datum": 1.2, "type": "quantitative", "scale": {"domain": [0, 100], "range": [26, 243], "nice": false, "zero": false}, "axis": null},
                      "x2": {"datum": 101.8},
                      "y": {"datum": -2.2, "type": "quantitative", "scale": {"domain": [0, 100], "range": [99, -104], "nice": false, "zero": false}, "axis": null},
                      "y2": {"datum": 98.5}}},
        {"data": {"values": [{}]}, "mark": {"type": "rect", "fill": "white", "stroke": "#a6a6a6", "strokeWidth": 1.5},
         "encoding": {"x": {"datum": 0, "type": "quantitative"}, "x2": {"datum": 100}, "y": {"datum": 0, "type": "quantitative"}, "y2": {"datum": 100}}},
        {"data": {"name": "ins"}, "transform": [{"filter": "datum.s == 'k'"}],
         "mark": {"type": "line", "interpolate": "monotone", "strokeWidth": 2.5},
         "encoding": {"x": {"field": "t", "type": "quantitative"}, "y": {"field": "v", "type": "quantitative"}, "color": {"field": "s", "type": "nominal"}, "detail": {"field": "g", "type": "nominal"}}},
        {"data": {"name": "ins"}, "transform": [{"filter": "datum.s == 'r'"}],
         "mark": {"type": "line", "interpolate": "monotone", "strokeWidth": 2.5},
         "encoding": {"x": {"field": "t", "type": "quantitative"}, "y": {"field": "v", "type": "quantitative"}, "color": {"field": "s", "type": "nominal"}, "detail": {"field": "g", "type": "nominal"}}},
        {"data": {"name": "ins"}, "transform": [{"filter": "datum.s == 'b'"}],
         "mark": {"type": "line", "interpolate": "monotone", "strokeWidth": 2.5},
         "encoding": {"x": {"field": "t", "type": "quantitative"}, "y": {"field": "v", "type": "quantitative"}, "color": {"field": "s", "type": "nominal"}, "detail": {"field": "g", "type": "nominal"}}}
      ]
    }
  ],
  "resolve": {"scale": {"x": "independent", "y": "independent"}}
},
{
  "width": 290, "height": 257,
  "layer": [
    {"data": {"name": "d"}, "transform": [{"filter": "datum.p == 'b' && datum.s == 'k'"}],
     "mark": {"type": "line", "interpolate": "step-after", "strokeWidth": 3},
     "encoding": {
       "x": {"field": "t", "type": "quantitative", "scale": {"domain": [0, 20], "nice": false, "zero": false},
             "axis": {"values": [0, 5, 10, 15, 20], "labelExpr": "datum.value == 15 ? 's' : datum.label", "title": "time", "labelPadding": 19, "titleY": 71, "titleBaseline": "alphabetic", "grid": true}},
       "y": {"field": "v", "type": "quantitative", "scale": {"domain": [0, 200], "nice": false},
             "axis": {"values": [0, 50, 100, 150, 200], "labelExpr": "datum.value == 150 ? ['W', '——–', 'mm²'] : datum.label", "labelAlign": {"condition": {"test": "datum.value == 150", "value": "center"}, "value": "right"}, "labelPadding": {"condition": {"test": "datum.value == 150", "value": 39}, "value": 23}, "labelOffset": {"condition": {"test": "datum.value == 150", "value": -16}, "value": 0}, "labelLineHeight": 15, "labelBaseline": "middle", "title": "specific grinding power Pc“", "titleX": -95, "titleY": 166, "titleAngle": -90, "titleAlign": "center", "titleBaseline": "middle", "grid": true}},
       "color": {"field": "s", "type": "nominal"},
       "detail": {"field": "g", "type": "nominal"}
     }},
    {"data": {"name": "d"}, "transform": [{"filter": "datum.p == 'b' && datum.s == 'r'"}],
     "mark": {"type": "line", "interpolate": "step-after", "strokeWidth": 2.75},
     "encoding": {"x": {"field": "t", "type": "quantitative"}, "y": {"field": "v", "type": "quantitative"}, "color": {"field": "s", "type": "nominal"}, "detail": {"field": "g", "type": "nominal"}}},
    {"data": {"name": "d"}, "transform": [{"filter": "datum.p == 'b' && datum.s == 'b'"}],
     "mark": {"type": "line", "interpolate": "step-after", "strokeWidth": 2.75},
     "encoding": {"x": {"field": "t", "type": "quantitative"}, "y": {"field": "v", "type": "quantitative"}, "color": {"field": "s", "type": "nominal"}, "detail": {"field": "g", "type": "nominal"}}},
    {"data": {"values": [{}]}, "mark": {"type": "text", "text": "b)", "align": "left", "baseline": "middle", "fontSize": 24.5, "font": "Liberation Sans", "color": "#000000"},
     "encoding": {"x": {"datum": -7.38, "type": "quantitative"}, "y": {"datum": 200, "type": "quantitative"}}}
  ]
},
{
  "width": 290, "height": 257,
  "layer": [
    {"data": {"name": "d"}, "transform": [{"filter": "datum.p == 'c' && datum.s == 'k'"}],
     "mark": {"type": "line", "interpolate": "step-after", "strokeWidth": 3},
     "encoding": {
       "x": {"field": "t", "type": "quantitative", "scale": {"domain": [0, 20], "nice": false, "zero": false},
             "axis": {"values": [0, 5, 10, 15, 20], "labelExpr": "datum.value == 15 ? 's' : datum.label", "title": "time", "labelPadding": 19, "titleY": 71, "titleBaseline": "alphabetic", "grid": true}},
       "y": {"field": "v", "type": "quantitative", "scale": {"domain": [0, 200], "nice": false},
             "axis": {"values": [0, 50, 100, 150, 200], "labelExpr": "datum.value == 150 ? ['W', '——–', 'mm²'] : datum.label", "labelAlign": {"condition": {"test": "datum.value == 150", "value": "center"}, "value": "right"}, "labelPadding": {"condition": {"test": "datum.value == 150", "value": 39}, "value": 23}, "labelOffset": {"condition": {"test": "datum.value == 150", "value": -16}, "value": 0}, "labelLineHeight": 15, "labelBaseline": "middle", "title": "specific grinding power Pc“", "titleX": -95, "titleY": 166, "titleAngle": -90, "titleAlign": "center", "titleBaseline": "middle", "grid": true}},
       "color": {"field": "s", "type": "nominal"},
       "detail": {"field": "g", "type": "nominal"}
     }},
    {"data": {"name": "d"}, "transform": [{"filter": "datum.p == 'c' && datum.s == 'r'"}],
     "mark": {"type": "line", "interpolate": "step-after", "strokeWidth": 2.75},
     "encoding": {"x": {"field": "t", "type": "quantitative"}, "y": {"field": "v", "type": "quantitative"}, "color": {"field": "s", "type": "nominal"}, "detail": {"field": "g", "type": "nominal"}}},
    {"data": {"name": "d"}, "transform": [{"filter": "datum.p == 'c' && datum.s == 'b'"}],
     "mark": {"type": "line", "interpolate": "step-after", "strokeWidth": 2.75},
     "encoding": {"x": {"field": "t", "type": "quantitative"}, "y": {"field": "v", "type": "quantitative"}, "color": {"field": "s", "type": "nominal"}, "detail": {"field": "g", "type": "nominal"}}},
    {"data": {"values": [{}]}, "mark": {"type": "text", "text": "c)", "align": "left", "baseline": "middle", "fontSize": 24.5, "font": "Liberation Sans", "color": "#000000"},
     "encoding": {"x": {"datum": -7.38, "type": "quantitative"}, "y": {"datum": 200, "type": "quantitative"}}}
  ]
}
]
}
